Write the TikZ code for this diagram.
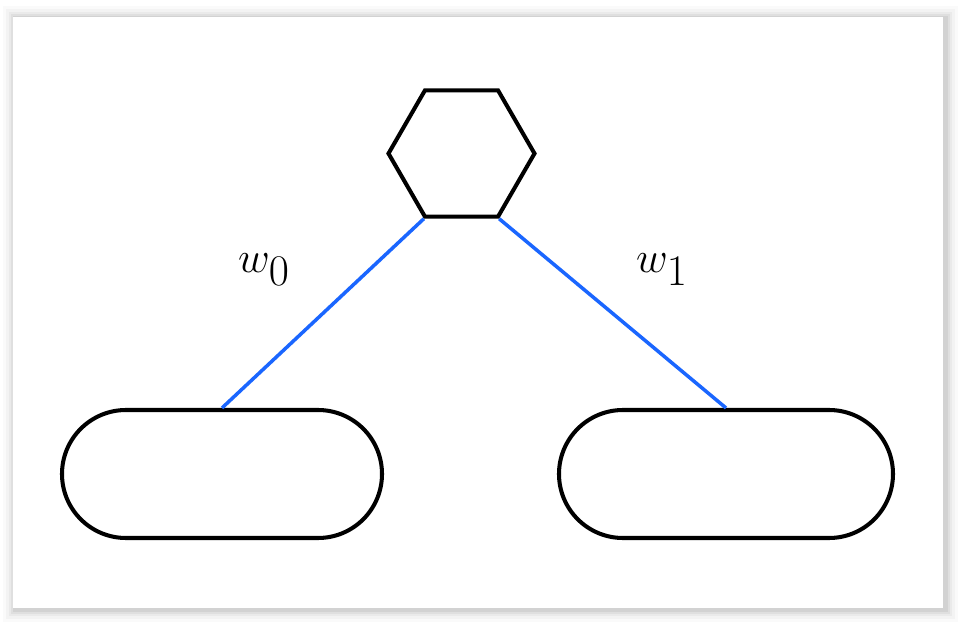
\documentclass[tikz,border=0pt]{standalone}
\usepackage{xcolor}
\usepackage{amsmath}
\usepackage{tikz}
\usetikzlibrary{positioning,shapes.geometric,calc}
\definecolor{edgeBlue}{HTML}{1A66FF}
\definecolor{cardShade}{HTML}{808080}
\tikzset{
  treenode/.style={draw=black, line width=2.3pt, fill=white, inner sep=0pt},
  hexnode/.style={treenode, regular polygon, regular polygon sides=6, minimum size=29.2mm},
  leafnode/.style={treenode, rectangle, rounded corners=12.8mm, minimum height=25.6mm},
  weightedge/.style={draw=edgeBlue, line width=2pt},
  weightlabel/.style={font=\fontsize{40}{48}\selectfont, inner sep=0pt}
}
\begin{document}
\begin{tikzpicture}[x=0.2mm, y=-0.2mm]
    \useasboundingbox (0,0) rectangle (962,623);
    % soft shadow round the card
    \foreach \d/\o in {12/0.04,9/0.06,6/0.08,4/0.1,2/0.14}
      \fill[cardShade, opacity=\o] (13-\d+2,17-\d+1) rectangle (943+\d+3,608+\d+2);
    \fill[white] (13,17) rectangle (943,608);

    \node[hexnode] (root) at (461.5,153.5) {};
    \node[leafnode, minimum width=64mm] (left) at (222,474) {};
    \node[leafnode, minimum width=66.8mm] (right) at (726,474) {};

    \draw[weightedge] (root.corner 4) -- (left.north);
    \draw[weightedge] (root.corner 5) -- (right.north);
    \node[weightlabel] (wzero) at (264,270) {$w_0$};
    \node[weightlabel] (wone) at (662,270) {$w_1$};
\end{tikzpicture}
\end{document}
